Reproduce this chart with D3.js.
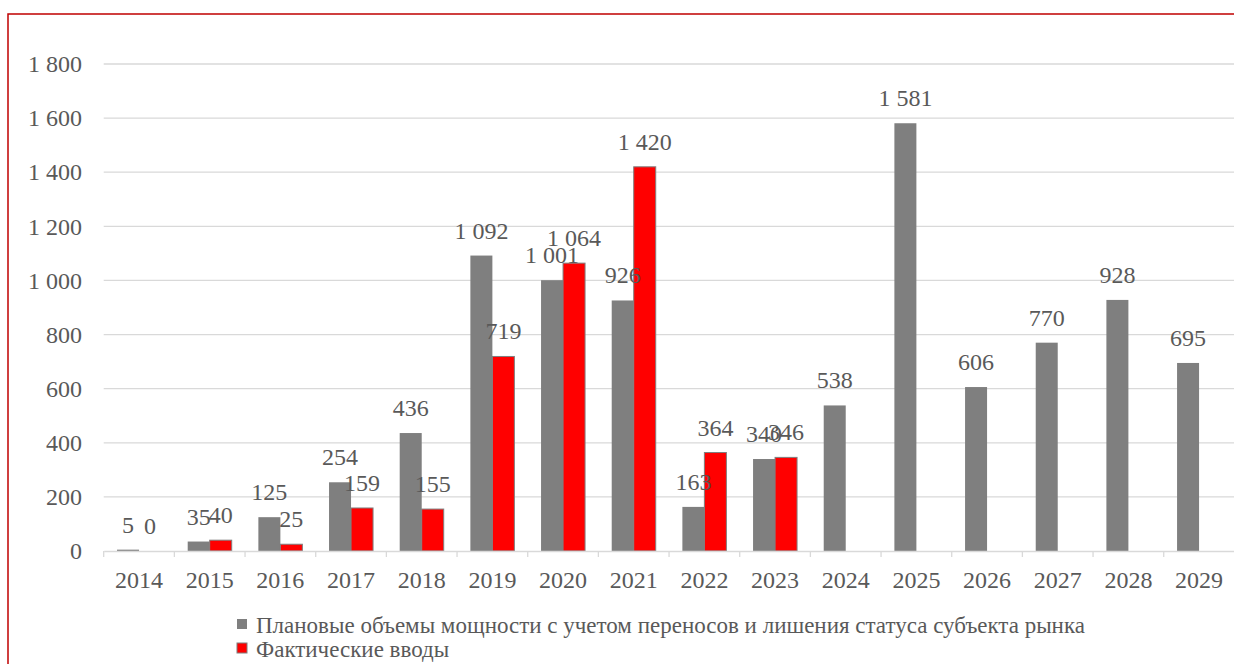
<!DOCTYPE html>
<html>
<head>
<meta charset="utf-8">
<script src="https://cdn.jsdelivr.net/npm/d3@7"></script>
<style>
  body { margin: 0; background: #fff; }
</style>
</head>
<body>
<svg id="svg-area"></svg>
<script>
/* データ */
let years = ["2014", "2015", "2016", "2017", "2018", "2019", "2020", "2021",
  "2022", "2023", "2024", "2025", "2026", "2027", "2028", "2029"];
let planValues = [5, 35, 125, 254, 436, 1092, 1001, 926, 163, 340, 538, 1581, 606, 770, 928, 695];
let factValues = [0, 40, 25, 159, 155, 719, 1064, 1420, 364, 346, null, null, null, null, null, null];
let seriesNames = [
  "Плановые объемы мощности с учетом переносов и лишения статуса субъекта рынка",
  "Фактические вводы"
];
let yTicks = [0, 200, 400, 600, 800, 1000, 1200, 1400, 1600, 1800];

let margin = {
  left: 103.7,
  right: -0.4,
  bottom: 113,
  top: 64,
};

let fontName = "Liberation Serif";

/* SVG要素のサイズ */
let width = 1234;
let height = 664;

let svg = d3.select("#svg-area")
  .attr("width", width)
  .attr("height", height)
  .attr("font-family", fontName);

/* 赤い枠 */
svg.append("rect")
  .attr("x", 8)
  .attr("y", 14)
  .attr("width", 1240)
  .attr("height", 700)
  .attr("fill", "none")
  .attr("stroke", "#c00000")
  .attr("stroke-width", 1.5);

/* スケール */
let xScale = d3.scaleBand()
  .domain(years)
  .range([margin.left, width - margin.right]);
let xInner = d3.scaleBand()
  .domain([0, 1])
  .range([0, xScale.bandwidth()])
  .paddingOuter(0.606);
let yScale = d3.scaleLinear()
  .domain([0, 1800])
  .range([height - margin.bottom, margin.top]);

let fmt = v => d3.format(",")(v).replace(/,/g, " ");

/* グリッド線 */
svg.append("g")
  .selectAll("line")
  .data(yTicks.slice(1))
  .join("line")
  .attr("x1", margin.left)
  .attr("x2", width)
  .attr("y1", d => yScale(d))
  .attr("y2", d => yScale(d))
  .attr("stroke", "#d9d9d9")
  .attr("stroke-width", 1.3);

/* y 軸 */
let yAxis = svg.append("g")
  .attr("transform", "translate(" + [82, 0].join(",") + ")")
  .call(
    d3.axisLeft(yScale)
      .tickValues(yTicks)
      .tickFormat(fmt)
      .tickSize(0)
      .tickPadding(0)
  )
  .attr("font-family", fontName)
  .attr("font-size", 24);
yAxis.select(".domain").remove();
yAxis.selectAll("text")
  .attr("fill", "#595959");

/* 棒 */
let colors = ["#7f7f7f", "#ff0000"];
[planValues, factValues].forEach((vals, s) => {
  svg.append("g")
    .selectAll("rect")
    .data(years.map((y, i) => ({ year: y, v: vals[i] })).filter(d => d.v !== null))
    .join("rect")
    .attr("x", d => xScale(d.year) + xInner(s))
    .attr("width", xInner.bandwidth())
    .attr("y", d => yScale(d.v))
    .attr("height", d => yScale(0) - yScale(d.v))
    .attr("fill", colors[s])
    .attr("stroke", s === 1 ? "#7f7f7f" : "none")
    .attr("stroke-width", 1);
});

/* x 軸 */
let xAxis = svg.append("g")
  .attr("transform", "translate(" + [0, yScale(0)].join(",") + ")")
  .call(
    d3.axisBottom(xScale)
      .tickSize(0)
      .tickPadding(20)
  )
  .attr("font-family", fontName)
  .attr("font-size", 24);
xAxis.select(".domain")
  .attr("stroke", "#d9d9d9")
  .attr("stroke-width", 1.3);
xAxis.selectAll("text")
  .attr("fill", "#595959");
/* 区切りの目盛り */
xAxis.append("g")
  .selectAll("line")
  .data(years)
  .join("line")
  .attr("x1", d => xScale(d))
  .attr("x2", d => xScale(d))
  .attr("y1", 0)
  .attr("y2", 6)
  .attr("stroke", "#d9d9d9")
  .attr("stroke-width", 1.3);

/* データラベル */
[planValues, factValues].forEach((vals, s) => {
  svg.append("g")
    .selectAll("text")
    .data(years.map((y, i) => ({ year: y, v: vals[i] })).filter(d => d.v !== null))
    .join("text")
    .attr("x", d => xScale(d.year) + xInner(s) + xInner.bandwidth() / 2)
    .attr("y", d => yScale(d.v) - 17)
    .attr("text-anchor", "middle")
    .attr("font-size", 24)
    .attr("fill", "#595959")
    .text(d => fmt(d.v));
});

/* 凡例 */
let legend = svg.append("g");
seriesNames.forEach((name, s) => {
  let ly = 624 + s * 24;
  legend.append("rect")
    .attr("x", 237)
    .attr("y", ly - 5)
    .attr("width", 10)
    .attr("height", 10)
    .attr("fill", colors[s])
    .attr("stroke", s === 1 ? "#7f7f7f" : "none");
  legend.append("text")
    .attr("x", 256)
    .attr("y", ly + 9)
    .attr("font-size", 23)
    .attr("fill", "#595959")
    .text(name);
});
</script>
</body>
</html>
